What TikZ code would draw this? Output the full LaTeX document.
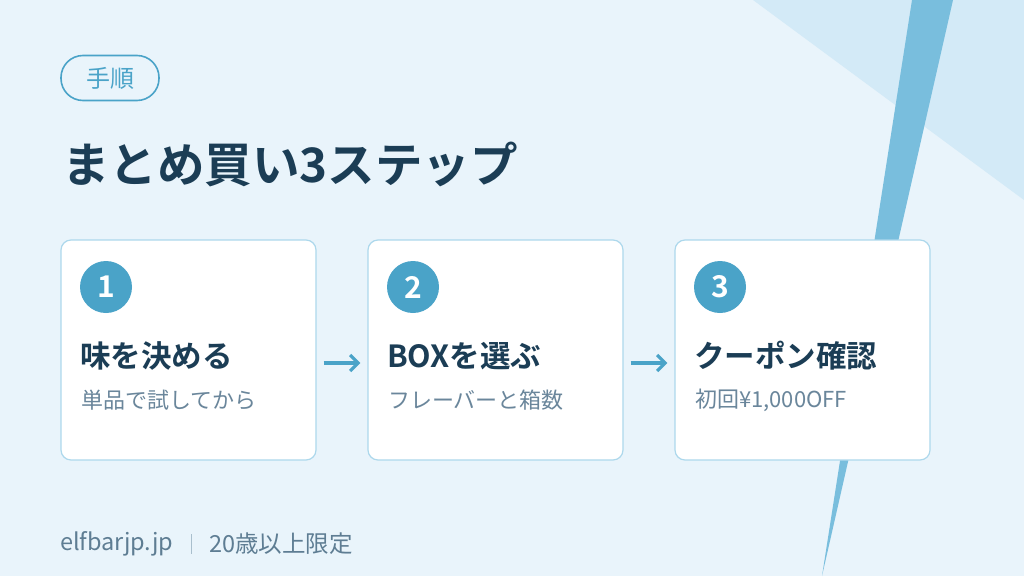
\documentclass[tikz,border=0pt]{standalone}
\usepackage{fontspec}
\setmainfont{Noto Sans CJK JP}[BoldFont={Noto Sans CJK JP Bold}]
\usetikzlibrary{arrows.meta}
\definecolor{bgc}{HTML}{E9F4FB}
\definecolor{tric}{HTML}{D3EAF7}
\definecolor{stripec}{HTML}{79BEDD}
\definecolor{cardline}{HTML}{ADD8EC}
\definecolor{accent}{HTML}{4AA3C8}
\definecolor{darkc}{HTML}{1B3D55}
\definecolor{grayc}{HTML}{6A869B}
\definecolor{footc}{HTML}{5E7D93}
\definecolor{sepc}{HTML}{A9BFCD}
\tikzset{
  card/.style={draw=cardline, line width=1.2pt, fill=white, rounded corners=10pt,
    minimum width=255pt, minimum height=220pt, inner sep=0pt},
  numc/.style={circle, fill=accent, minimum size=52pt, inner sep=0pt,
    text=white, font=\bfseries\fontsize{30}{30}\selectfont},
  cardtitle/.style={anchor=west, inner sep=0pt, text=darkc, font=\bfseries\fontsize{30.5}{30.5}\selectfont},
  cardsub/.style={anchor=west, inner sep=0pt, text=grayc, font=\fontsize{22}{22}\selectfont},
  foot/.style={anchor=west, inner sep=0pt, text=footc, font=\fontsize{23.5}{23.5}\selectfont},
  flow/.style={draw=accent, line width=3.2pt, -{Straight Barb[length=8pt,width=16pt,line width=3.2pt]}, shorten <=7pt, shorten >=7pt},
}
\begin{document}
\begin{tikzpicture}[x=1pt,y=-1pt]
\fill[bgc] (0,0) rectangle (1024,576);
\useasboundingbox (0,0) rectangle (1024,576);
\fill[tric] (753,0) -- (1024,0) -- (1024,200) -- cycle;
\fill[stripec] (912,0) -- (953,0) -- (822,576) -- cycle;

% badge
\node[draw=accent, line width=1.6pt, rounded corners=22pt, minimum width=98pt, minimum height=45pt,
  inner sep=0pt, text=accent, font=\fontsize{24}{24}\selectfont] (badge) at (110,78) {手順};

% title
\node[anchor=west, inner sep=0pt, text=darkc, font=\bfseries\fontsize{47.5}{47.5}\selectfont] (title) at (62,164) {まとめ買い3ステップ};

% cards
\node[card] (c1) at (188.5,350) {};
\node[card] (c2) at (495.5,350) {};
\node[card] (c3) at (802.5,350) {};

\node[numc] (n1) at (106,287) {1};
\node[numc] (n2) at (413,287) {2};
\node[numc] (n3) at (720,287) {3};

\node[cardtitle] (t1) at (80,356) {味を決める};
\node[cardtitle] (t2) at (387,356) {BOXを選ぶ};
\node[cardtitle] (t3) at (694,356) {クーポン確認};

\node[cardsub] (s1) at (81,400) {単品で試してから};
\node[cardsub] (s2) at (388,400) {フレーバーと箱数};
\node[cardsub] (s3) at (695,400) {初回¥1,000OFF};

\draw[flow] ([yshift=-13pt]c1.east) -- ([yshift=-13pt]c2.west);
\draw[flow] ([yshift=-13pt]c2.east) -- ([yshift=-13pt]c3.west);

% footer
\node[foot] (f1) at (60,544) {elfbarjp.jp};
\node[foot] (f2) at (209,544) {20歳以上限定};
\coordinate (sepA) at (191,534);
\coordinate (sepB) at (191,554);
\draw[sepc, line width=1pt] (sepA) -- (sepB);
\end{tikzpicture}
\end{document}
